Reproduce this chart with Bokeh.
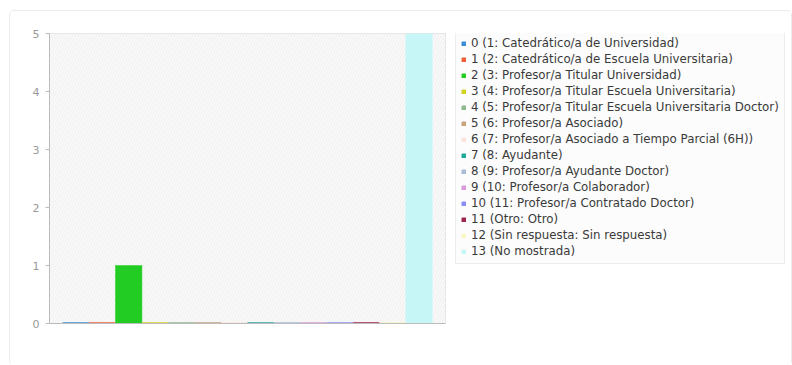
from bokeh.plotting import figure
from bokeh.layouts import row
from bokeh.models import Range1d, FixedTicker, Legend, LegendItem, BoxAnnotation
from bokeh.embed import file_html
from bokeh.resources import INLINE

labels = [
    "0 (1: Catedrático/a de Universidad)",
    "1 (2: Catedrático/a de Escuela Universitaria)",
    "2 (3: Profesor/a Titular Universidad)",
    "3 (4: Profesor/a Titular Escuela Universitaria)",
    "4 (5: Profesor/a Titular Escuela Universitaria Doctor)",
    "5 (6: Profesor/a Asociado)",
    "6 (7: Profesor/a Asociado a Tiempo Parcial (6H))",
    "7 (8: Ayudante)",
    "8 (9: Profesor/a Ayudante Doctor)",
    "9 (10: Profesor/a Colaborador)",
    "10 (11: Profesor/a Contratado Doctor)",
    "11 (Otro: Otro)",
    "12 (Sin respuesta: Sin respuesta)",
    "13 (No mostrada)",
]
positions = list(range(14))
values = [0, 0, 1, 0, 0, 0, 0, 0, 0, 0, 0, 0, 0, 5]
colors = [
    "#3a8ed6", "#f05f38", "#22cc22", "#d2d222", "#8fb88f", "#c9a27e", "#fbe3dc",
    "#1fa99a", "#a9bcd6", "#d99ad9", "#8c8cf7", "#a0224f", "#f9f7c3", "#c6f6f6",
]
y_ticks = [0, 1, 2, 3, 4, 5]

# --- chart ---
p = figure(width=436, height=354, output_backend="svg", toolbar_location=None,
           x_range=Range1d(-1, 14), y_range=Range1d(0, 5),
           min_border_left=39, min_border_top=22, min_border_bottom=42,
           min_border_right=1, background_fill_color="#f9f9f9",
           border_fill_color="white", outline_line_color="#e0e0e0")

bg = BoxAnnotation(fill_color="#f9f9f9", fill_alpha=1.0, line_color=None,
                   hatch_pattern="/", hatch_color="#efefef", hatch_scale=6,
                   hatch_weight=1, level="underlay")
p.add_layout(bg)

for i in range(len(values)):
    lw = 2.5 if values[i] == 0 else 0.5
    p.vbar(x=[positions[i]], top=[values[i]], bottom=0, width=1.0,
           fill_color=colors[i], line_color=colors[i], line_width=lw,
           line_join="miter")

p.yaxis.ticker = FixedTicker(ticks=y_ticks)
p.yaxis.axis_line_color = "#bbbbbb"
p.yaxis.major_tick_line_color = "#bbbbbb"
p.yaxis.major_tick_out = 4
p.yaxis.major_tick_in = 0
p.yaxis.minor_tick_line_color = None
p.yaxis.major_label_text_color = "#999999"
p.yaxis.major_label_text_font = "DejaVu Sans"
p.yaxis.major_label_text_font_size = "11px"
p.yaxis.major_label_standoff = 6

p.xaxis.ticker = FixedTicker(ticks=[6.5])
p.xaxis.axis_line_color = "#bbbbbb"
p.xaxis.axis_line_width = 1
p.xaxis.major_tick_line_color = None
p.xaxis.minor_tick_line_color = None
p.xaxis.major_label_text_color = None

p.ygrid.grid_line_color = "#e2e2e2"
p.ygrid.grid_line_dash = "4 3"
p.xgrid.grid_line_color = "#e2e2e2"
p.xgrid.grid_line_dash = "4 3"

# --- legend panel ---
q = figure(width=345, height=354, output_backend="svg", toolbar_location=None,
           x_range=Range1d(0, 1), y_range=Range1d(0, 1),
           x_axis_location=None, y_axis_location=None,
           min_border=0, outline_line_color=None,
           background_fill_color="white", border_fill_color="white")
q.xgrid.visible = False
q.ygrid.visible = False

items = []
for i in range(len(values)):
    r = q.vbar(x=[positions[i]], top=[values[i]], bottom=0, width=1.0,
               fill_color=colors[i], line_color=colors[i], visible=False)
    items.append(LegendItem(label=labels[i], renderers=[r]))

legend = Legend(items=items, location=(9, 59), orientation="vertical",
                label_text_font="DejaVu Sans", label_text_font_size="11.8px",
                label_text_color="#3a3a3a", glyph_width=5, glyph_height=5,
                label_height=14, spacing=2, padding=5, margin=0,
                label_standoff=5, background_fill_color="#fcfcfc",
                background_fill_alpha=1.0, border_line_color="#dddddd")
q.add_layout(legend)

layout = row(p, q, spacing=0)
layout.styles = {"border": "1px solid #ececec", "border-radius": "5px",
                 "margin-left": "9px", "margin-top": "10px"}

open("out.html", "w").write(file_html(layout, INLINE))
